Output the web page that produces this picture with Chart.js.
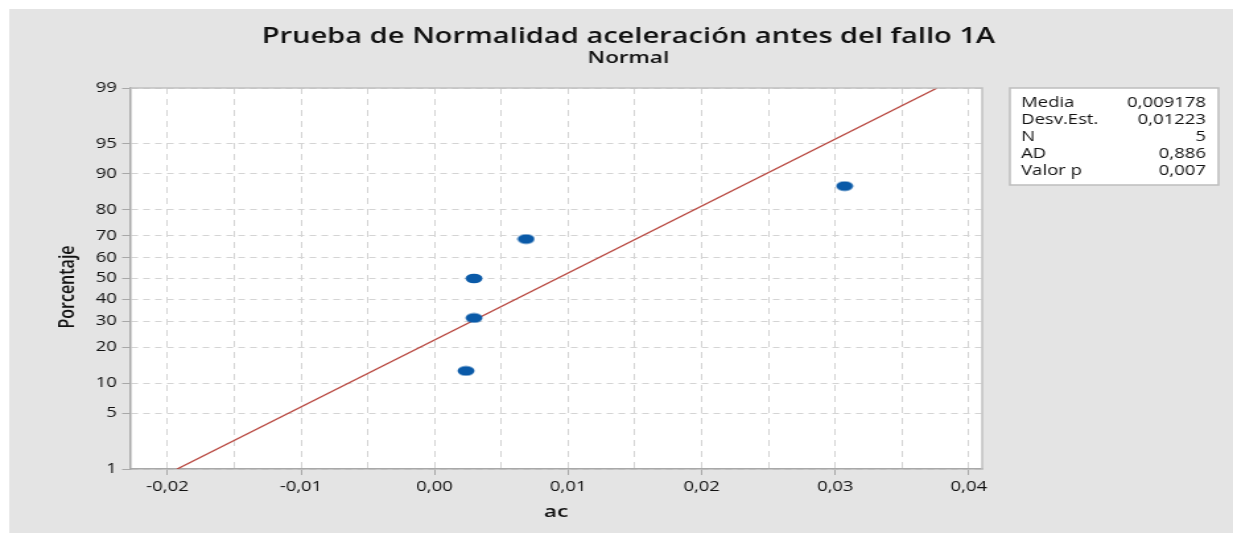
<!DOCTYPE html>
<html>
<head>
<meta charset="utf-8">
<script src="https://cdn.jsdelivr.net/npm/chart.js@4.4.1/dist/chart.umd.min.js"></script>
<style>
  body { margin: 0; background: #ffffff; }
  canvas { display: block; }
</style>
</head>
<body>
<!-- el original esta estirado en horizontal: se dibuja estrecho y se estira por CSS -->
<canvas id="probChart" width="934" height="533" style="width:1233px;height:533px"></canvas>
<script>
// datos
const acValues = [0.00235, 0.00295, 0.00295, 0.00685, 0.0307];
const pctValues = [12.96, 31.48, 50, 68.52, 87.04];
const pctTicks = [1, 5, 10, 20, 30, 40, 50, 60, 70, 80, 90, 95, 99];
const xTicks = [-0.02, -0.015, -0.01, -0.005, 0, 0.005, 0.01, 0.015, 0.02, 0.025, 0.03, 0.035, 0.04];
const statLabels = ['Media', 'Desv.Est.', 'N', 'AD', 'Valor p'];
const statValues = ['0,009178', '0,01223', '5', '0,886', '0,007'];
const media = 0.009178;
const desvEst = 0.01223;

const FONT = '"Open Sans", "Noto Sans", sans-serif';
const TXT = '#111111';

// inversa de la normal (Acklam)
function probit(p) {
    const a = [-39.69683028665376, 220.9460984245205, -275.9285104469687, 138.3577518672690, -30.66479806614716, 2.506628277459239];
    const b = [-54.47609879822406, 161.5858368580409, -155.6989798598866, 66.80131188771972, -13.28068155288572];
    const c = [-0.007784894002430293, -0.3223964580411365, -2.400758277161838, -2.549732539343734, 4.374664141464968, 2.938163982698783];
    const d = [0.007784695709041462, 0.3224671290700398, 2.445134137142996, 3.754408661907416];
    const pl = 0.02425;
    let q, r;
    if (p < pl) {
        q = Math.sqrt(-2 * Math.log(p));
        return (((((c[0]*q+c[1])*q+c[2])*q+c[3])*q+c[4])*q+c[5]) / ((((d[0]*q+d[1])*q+d[2])*q+d[3])*q+1);
    }
    if (p > 1 - pl) {
        q = Math.sqrt(-2 * Math.log(1 - p));
        return -(((((c[0]*q+c[1])*q+c[2])*q+c[3])*q+c[4])*q+c[5]) / ((((d[0]*q+d[1])*q+d[2])*q+d[3])*q+1);
    }
    q = p - 0.5; r = q * q;
    return (((((a[0]*r+a[1])*r+a[2])*r+a[3])*r+a[4])*r+a[5])*q / (((((b[0]*r+b[1])*r+b[2])*r+b[3])*r+b[4])*r+1);
}

const zMin = probit(pctTicks[0] / 100);
const zMax = probit(pctTicks[pctTicks.length - 1] / 100);

const points = acValues.map((v, i) => ({ x: v, y: probit(pctValues[i] / 100) }));
const fitLine = [
    { x: media + zMin * desvEst, y: zMin },
    { x: media + zMax * desvEst, y: zMax }
];

// punto eliptico como en Minitab
const dot = document.createElement('canvas');
dot.width = 14; dot.height = 11;
(function () {
    const g = dot.getContext('2d');
    g.fillStyle = '#0a5aa8';
    g.beginPath();
    g.ellipse(7, 5.5, 6.4, 4.8, 0, 0, Math.PI * 2);
    g.fill();
})();

const decoPlugin = {
    id: 'deco',
    beforeDraw(chart) {
        const ctx = chart.ctx, a = chart.chartArea;
        ctx.save();
        ctx.fillStyle = '#e4e4e4';
        ctx.fillRect(7, 9, chart.width - 7, chart.height - 9);
        ctx.fillStyle = '#ffffff';
        ctx.fillRect(a.left, a.top, a.right - a.left, a.bottom - a.top);
        ctx.restore();
    },
    afterDraw(chart) {
        const ctx = chart.ctx, a = chart.chartArea;
        ctx.save();
        // marco del area
        ctx.strokeStyle = '#c0c0c0';
        ctx.lineWidth = 1.5;
        ctx.beginPath();
        ctx.moveTo(a.left, a.top); ctx.lineTo(a.right, a.top); ctx.lineTo(a.right, a.bottom);
        ctx.stroke();

        // titulos
        ctx.fillStyle = TXT;
        ctx.textAlign = 'center';
        ctx.textBaseline = 'middle';
        ctx.font = '600 22px ' + FONT;
        ctx.fillText('Prueba de Normalidad aceleración antes del fallo 1A', 476, 37);
        ctx.font = '600 17px ' + FONT;
        ctx.fillText('Normal', 476, 58);

        // ejes
        ctx.font = '600 17px ' + FONT;
        ctx.fillText('ac', (a.left + a.right) / 2, 512);
        ctx.save();
        ctx.translate(51, 287);
        ctx.rotate(-Math.PI / 2);
        ctx.font = '600 16px ' + FONT;
        ctx.fillText('Porcentaje', 0, 0);
        ctx.restore();

        // cuadro de estadisticos
        ctx.fillStyle = '#ffffff';
        ctx.fillRect(765, 88, 158, 97);
        ctx.strokeStyle = '#bdbdbd';
        ctx.lineWidth = 1.5;
        ctx.strokeRect(765, 88, 158, 97);
        ctx.fillStyle = TXT;
        ctx.font = '14px ' + FONT;
        statLabels.forEach((lab, i) => {
            const y = 103 + i * 17;
            ctx.textAlign = 'left';
            ctx.fillText(lab, 773.5, y);
            ctx.textAlign = 'right';
            ctx.fillText(statValues[i], 913.5, y);
        });
        ctx.restore();
    }
};

const ctx = document.getElementById('probChart');
const probChart = new Chart(ctx, {
    type: 'scatter',
    data: {
        datasets: [{
            label: 'Ajuste',
            data: fitLine,
            showLine: true,
            borderColor: '#b8473f',
            borderWidth: 1.3,
            pointRadius: 0,
            order: 2
        }, {
            label: 'ac',
            data: points,
            pointStyle: dot,
            pointRadius: 7,
            order: 1
        }]
    },
    plugins: [decoPlugin],
    options: {
        responsive: false,
        animation: false,
        layout: { padding: { left: 7, top: 88, right: 190, bottom: 0 } },
        plugins: {
            legend: { display: false },
            tooltip: { enabled: false }
        },
        scales: {
            x: {
                type: 'linear',
                min: -0.0228,
                max: 0.041,
                afterFit(scale) { scale.height = 64; },
                afterBuildTicks(scale) { scale.ticks = xTicks.map(v => ({ value: v })); },
                ticks: {
                    autoSkip: false,
                    maxRotation: 0,
                    padding: 4,
                    color: TXT,
                    font: { family: FONT, size: 14 },
                    callback(v) {
                        const k = Math.round(v * 1000);
                        if (k % 10 !== 0) return '';
                        return v.toFixed(2).replace('.', ',');
                    }
                },
                grid: {
                    color: '#d4d4d4',
                    lineWidth: 1,
                    tickLength: 6,
                    tickColor(c) {
                        const k = Math.round(c.tick.value * 1000);
                        return k % 10 === 0 ? '#a8a8a8' : 'rgba(0,0,0,0)';
                    }
                },
                border: { color: '#a8a8a8', width: 1.5, dash: [6, 5] }
            },
            y: {
                type: 'linear',
                min: zMin,
                max: zMax,
                afterFit(scale) { scale.width = 91.5; },
                afterBuildTicks(scale) { scale.ticks = pctTicks.map(p => ({ value: probit(p / 100) })); },
                ticks: {
                    autoSkip: false,
                    padding: 4,
                    color: TXT,
                    font: { family: FONT, size: 14 },
                    callback(v, i) { return String(pctTicks[i]); }
                },
                grid: {
                    color: '#d4d4d4',
                    lineWidth: 1,
                    tickLength: 6,
                    tickColor: '#a8a8a8'
                },
                border: { color: '#a8a8a8', width: 1.5, dash: [5, 4] }
            }
        }
    }
});
</script>
</body>
</html>
